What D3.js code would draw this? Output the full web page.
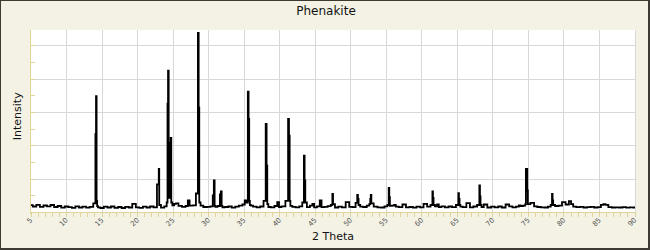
<!DOCTYPE html>
<html lang="en">
<head>
    <meta charset="UTF-8">
    <title>Phenakite</title>
    <script src="https://d3js.org/d3.v7.min.js"></script>
    <style>
        body { margin: 0; background: #fff; }
        svg { display: block; font-family: "DejaVu Sans", sans-serif; }
        .grid line { stroke: #d8d8d8; stroke-width: 1; shape-rendering: crispEdges; }
        .axis line { stroke: #e0d596; shape-rendering: crispEdges; }
        .tick-label { font-size: 7px; fill: #555; }
        .title { font-size: 12px; fill: #111; }
        .axis-title { font-size: 11px; fill: #111; }
    </style>
</head>
<body>
    <svg width="650" height="250"></svg>
    <script>
        // background counts, one every 0.5 deg 2-theta starting at 5
        const bgStart = 5, bgStep = 0.5;
        const background = [
            44, 36, 46, 34, 42, 37, 45,
            33, 39, 29, 36, 32, 28, 37, 30, 35, 29, 34, 36,
            31, 27, 35, 30, 36, 28, 33, 27, 34, 30, 52, 31,
            28, 35, 30, 36, 31, 37, 29, 37, 39, 43,
            55, 40, 34, 39, 41, 43, 44, 41, 33, 34,
            37, 34, 39, 31, 33, 36, 29, 35, 41, 48,
            50, 41, 35, 31, 36, 41, 33, 31, 39, 33,
            37, 45, 40, 34, 31, 37, 39, 32, 41, 31,
            37, 32, 34, 38, 33, 30, 35, 31, 37, 34,
            32, 41, 35, 33, 41, 44, 35, 31, 30, 37,
            39, 41, 35, 32, 39, 31, 33, 29, 35, 31,
            41, 35, 43, 37, 32, 37, 31, 36, 32, 39,
            35, 32, 39, 31, 36, 43, 33, 31, 30, 35,
            31, 36, 30, 35, 37, 31, 35, 39, 41, 43,
            45, 37, 33, 31, 30, 35, 37, 39, 41, 44,
            48, 41, 35, 32, 34, 30, 32, 34, 30, 32,
            43, 41, 32, 30, 31, 30, 32, 29, 31, 30
        ];

        // reflections: [2theta, counts]
        const peaks = [
            [14.02, 55], [14.11, 470], [14.19, 697], [14.27, 70], [14.35, 38],
            [22.95, 168], [23.01, 262], [23.08, 45],
            [24.18, 60], [24.24, 653], [24.33, 850], [24.42, 100], [24.5, 88],
            [24.62, 419], [24.70, 447], [24.78, 60],
            [25.3, 52],
            [27.14, 72],
            [28.42, 114], [28.55, 1076], [28.64, 629], [28.72, 60],
            [30.66, 102], [30.80, 192], [30.88, 40],
            [31.66, 108], [31.78, 126], [31.88, 40],
            [35.16, 72],
            [35.45, 60], [35.58, 725], [35.66, 561], [35.75, 70], [35.85, 45],
            [37.95, 70], [38.11, 531], [38.2, 281], [38.3, 50],
            [39.8, 62],
            [41.1, 70], [41.26, 561], [41.35, 461], [41.45, 70], [41.55, 40],
            [43.35, 60], [43.46, 341], [43.55, 192], [43.65, 60],
            [44.69, 52],
            [45.77, 72],
            [47.36, 45], [47.46, 112], [47.55, 50],
            [49.57, 62],
            [50.85, 58], [50.97, 106], [51.05, 82], [51.15, 45],
            [52.7, 50], [52.78, 82], [52.85, 106], [52.95, 55],
            [55.3, 45], [55.38, 148], [55.46, 92], [55.55, 40],
            [56.18, 46],
            [57.53, 48],
            [60.49, 52],
            [61.45, 45], [61.53, 126], [61.6, 88], [61.7, 45],
            [62.28, 48],
            [65.1, 45], [65.18, 116], [65.26, 82], [65.35, 45],
            [66.54, 56],
            [68.05, 45], [68.14, 162], [68.22, 96], [68.3, 45],
            [68.93, 48],
            [72.08, 48],
            [73.8, 42],
            [74.62, 50], [74.68, 262], [74.8, 262], [74.88, 132], [74.96, 50],
            [75.6, 58],
            [78.28, 45], [78.36, 112], [78.44, 72], [78.52, 45],
            [79.96, 62],
            [80.9, 68], [81.1, 50],
            [85.4, 46], [85.7, 50], [86.0, 46]
        ];

        const xTicks = [5, 10, 15, 20, 25, 30, 35, 40, 45, 50, 55, 60, 65, 70, 75, 80, 85, 90];
        const yMajor = [200, 400, 600, 800, 1000];
        const yMinor = [100, 200, 300, 400, 500, 600, 700, 800, 900, 1000];

        const width = 650, height = 250;
        const plot = { left: 31, right: 635, top: 30, bottom: 212.5 };

        const svg = d3.select("svg");

        const x = d3.scaleLinear().domain([5, 90]).range([plot.left, plot.right]);
        const y = d3.scaleLinear().domain([0, 1094]).range([plot.bottom, plot.top]);
        const px = v => Math.floor(v) + 0.5;

        // frame
        svg.append("rect").attr("width", width).attr("height", height).attr("fill", "#f4f2e5");
        svg.append("rect").attr("x", 0.5).attr("y", 0.5).attr("width", width - 2).attr("height", height - 2)
            .attr("fill", "none").attr("stroke", "#3d3a32");
        svg.append("rect").attr("x", width - 2).attr("y", 0).attr("width", 2).attr("height", height).attr("fill", "#3d3a32");
        svg.append("rect").attr("x", 0).attr("y", height - 2).attr("width", width).attr("height", 2).attr("fill", "#3d3a32");

        svg.append("rect")
            .attr("x", plot.left).attr("y", plot.top)
            .attr("width", plot.right - plot.left + 1).attr("height", plot.bottom - plot.top)
            .attr("fill", "#fff");

        // grid
        const grid = svg.append("g").attr("class", "grid");
        grid.selectAll(".gx").data(xTicks.slice(1)).enter().append("line")
            .attr("x1", d => px(x(d))).attr("x2", d => px(x(d)))
            .attr("y1", plot.top).attr("y2", plot.bottom);
        grid.selectAll(".gy").data(yMajor).enter().append("line")
            .attr("x1", plot.left).attr("x2", plot.right + 1)
            .attr("y1", d => px(y(d))).attr("y2", d => px(y(d)));

        // merge background and peaks into one pattern
        const bgPoints = background.map((v, i) => [bgStart + i * bgStep, v])
            .filter(p => !peaks.some(q => Math.abs(q[0] - p[0]) < 0.12));
        const pattern = bgPoints.concat(peaks).sort((a, b) => a[0] - b[0]);

        svg.append("clipPath").attr("id", "clip").append("rect")
            .attr("x", plot.left).attr("y", plot.top)
            .attr("width", plot.right - plot.left + 1).attr("height", plot.bottom - plot.top);

        const line = d3.line().x(d => x(d[0])).y(d => y(d[1])).curve(d3.curveStep);
        svg.append("path")
            .attr("clip-path", "url(#clip)")
            .attr("d", line(pattern))
            .attr("fill", "none")
            .attr("stroke", "#000")
            .attr("stroke-width", 1.8)
            .attr("stroke-linejoin", "miter");

        // axes
        const axis = svg.append("g").attr("class", "axis");
        axis.append("line")
            .attr("x1", plot.left - 0.5).attr("x2", plot.left - 0.5)
            .attr("y1", plot.top).attr("y2", plot.bottom + 1);
        axis.append("line")
            .attr("x1", plot.left - 1).attr("x2", plot.right + 1)
            .attr("y1", px(plot.bottom)).attr("y2", px(plot.bottom));
        axis.selectAll(".ty").data(yMinor).enter().append("line")
            .attr("x1", plot.left).attr("x2", plot.left + 4)
            .attr("y1", d => px(y(d))).attr("y2", d => px(y(d)));
        axis.selectAll(".tx").data(d3.range(5, 91)).enter().append("line")
            .attr("x1", d => px(x(d))).attr("x2", d => px(x(d)))
            .attr("y1", px(plot.bottom)).attr("y2", px(plot.bottom) + 4);

        svg.selectAll(".tick-label").data(xTicks).enter().append("text")
            .attr("class", "tick-label")
            .attr("text-anchor", "end")
            .attr("transform", d => `translate(${x(d) + 2},${plot.bottom + 8}) rotate(-45)`)
            .text(d => d);

        svg.append("text").attr("class", "title")
            .attr("x", 326).attr("y", 15).attr("text-anchor", "middle")
            .text("Phenakite");

        svg.append("text").attr("class", "axis-title")
            .attr("x", 333).attr("y", 240).attr("text-anchor", "middle")
            .text("2 Theta");

        svg.append("text").attr("class", "axis-title")
            .attr("text-anchor", "middle")
            .attr("transform", `translate(21,${(plot.top + plot.bottom) / 2 - 5}) rotate(-90)`)
            .text("Intensity");
    </script>
</body>
</html>
